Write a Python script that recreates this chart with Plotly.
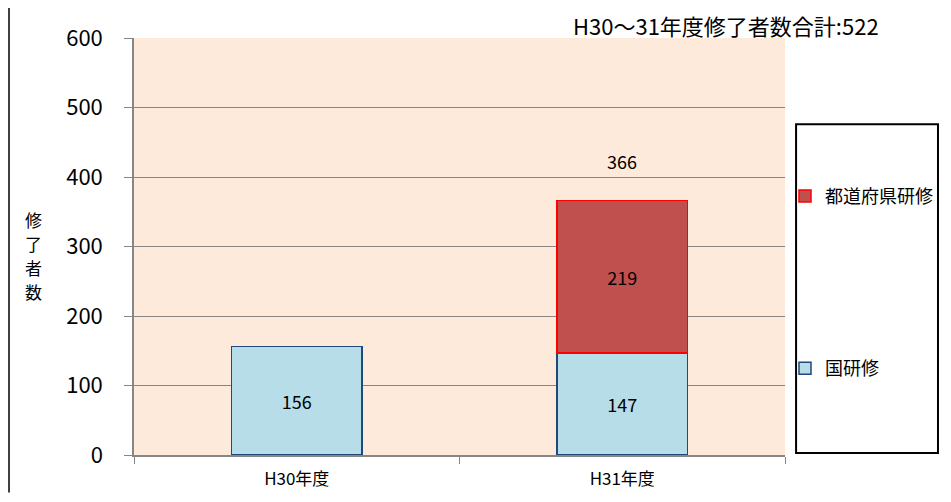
import plotly.graph_objects as go

years = ["H30年度", "H31年度"]
kuni = [156, 147]
todofuken = [None, 219]
totals = [156, 366]
total_title = "H30〜31年度修了者数合計:522"
y_title = ["修", "了", "者", "数"]
y_ticks = [0, 100, 200, 300, 400, 500, 600]

font = "Noto Sans CJK JP, Open Sans, sans-serif"

fig = go.Figure()
fig.add_trace(go.Bar(
    x=years, y=kuni, name="国研修", legendgroup="a", legendrank=2,
    marker=dict(color="#B7DDE8", line=dict(color="#1F497D", width=1.5)),
    text=kuni, textposition="inside", insidetextanchor="middle",
    textfont=dict(size=18, color="black", family=font),
))
fig.add_trace(go.Bar(
    x=years, y=todofuken, name="都道府県研修", legendgroup="b", legendrank=1,
    marker=dict(color="#C0504D", line=dict(color="#FF0000", width=1.5)),
    text=[("" if v is None else v) for v in todofuken], textposition="inside",
    insidetextanchor="middle",
    textfont=dict(size=18, color="black", family=font),
))

# total label above the stacked bar
fig.add_annotation(x=years[1], y=totals[1], text=str(totals[1]), showarrow=False,
                   yanchor="bottom", yshift=25, font=dict(size=18, color="black", family=font))

fig.add_annotation(xref="paper", yref="paper", x=1.147, y=1.03, text=total_title,
                   showarrow=False, xanchor="right", yanchor="middle",
                   font=dict(size=22, color="black", family=font))

# vertical axis title, one character per line
for i, ch in enumerate(y_title):
    fig.add_annotation(xref="paper", yref="paper", x=-0.155, y=0.5645 - i * 0.0575,
                       xanchor="center", yanchor="middle", text=ch, showarrow=False,
                       font=dict(size=17, color="black", family=font))

# legend frame
fig.add_shape(type="rect", xref="paper", yref="paper", x0=1.017, x1=1.235, y0=0.005, y1=0.793,
              line=dict(color="black", width=2), fillcolor="rgba(0,0,0,0)", layer="below")
# left frame line (page body has an 8px margin, so it sits at the figure edge)
fig.add_shape(type="line", xref="paper", yref="paper", x0=-0.192, x1=-0.192, y0=-0.09, y1=1.08,
              line=dict(color="black", width=1.5))

# figure is offset 8px by the page margin, so size/margins are reduced to match
fig.update_layout(
    barmode="stack", bargap=0.6,
    width=943, height=494,
    margin=dict(l=126, r=166, t=25, b=35),
    paper_bgcolor="white", plot_bgcolor="#FDEADA",
    font=dict(family=font, color="black"),
    showlegend=True,
    legend=dict(x=1.0, y=0.665, xanchor="left", yanchor="top",
                traceorder="grouped", tracegroupgap=146,
                font=dict(size=18, family=font), itemwidth=30,
                bgcolor="rgba(0,0,0,0)"),
    xaxis=dict(showline=True, linecolor="#868686", linewidth=1.5, ticks="outside",
               tickson="boundaries", tickcolor="#868686", ticklen=7,
               tickfont=dict(size=17, family=font), ticklabelstandoff=8),
    yaxis=dict(range=[0, 600], tickvals=y_ticks, showline=True, linecolor="#868686",
               linewidth=1.5, gridcolor="#868686", gridwidth=1.2, ticks="outside",
               tickcolor="#868686", ticklen=8, zeroline=False,
               tickfont=dict(size=22, family=font), ticklabelstandoff=17),
)

fig.write_html("out.html", config={"displayModeBar": False})
